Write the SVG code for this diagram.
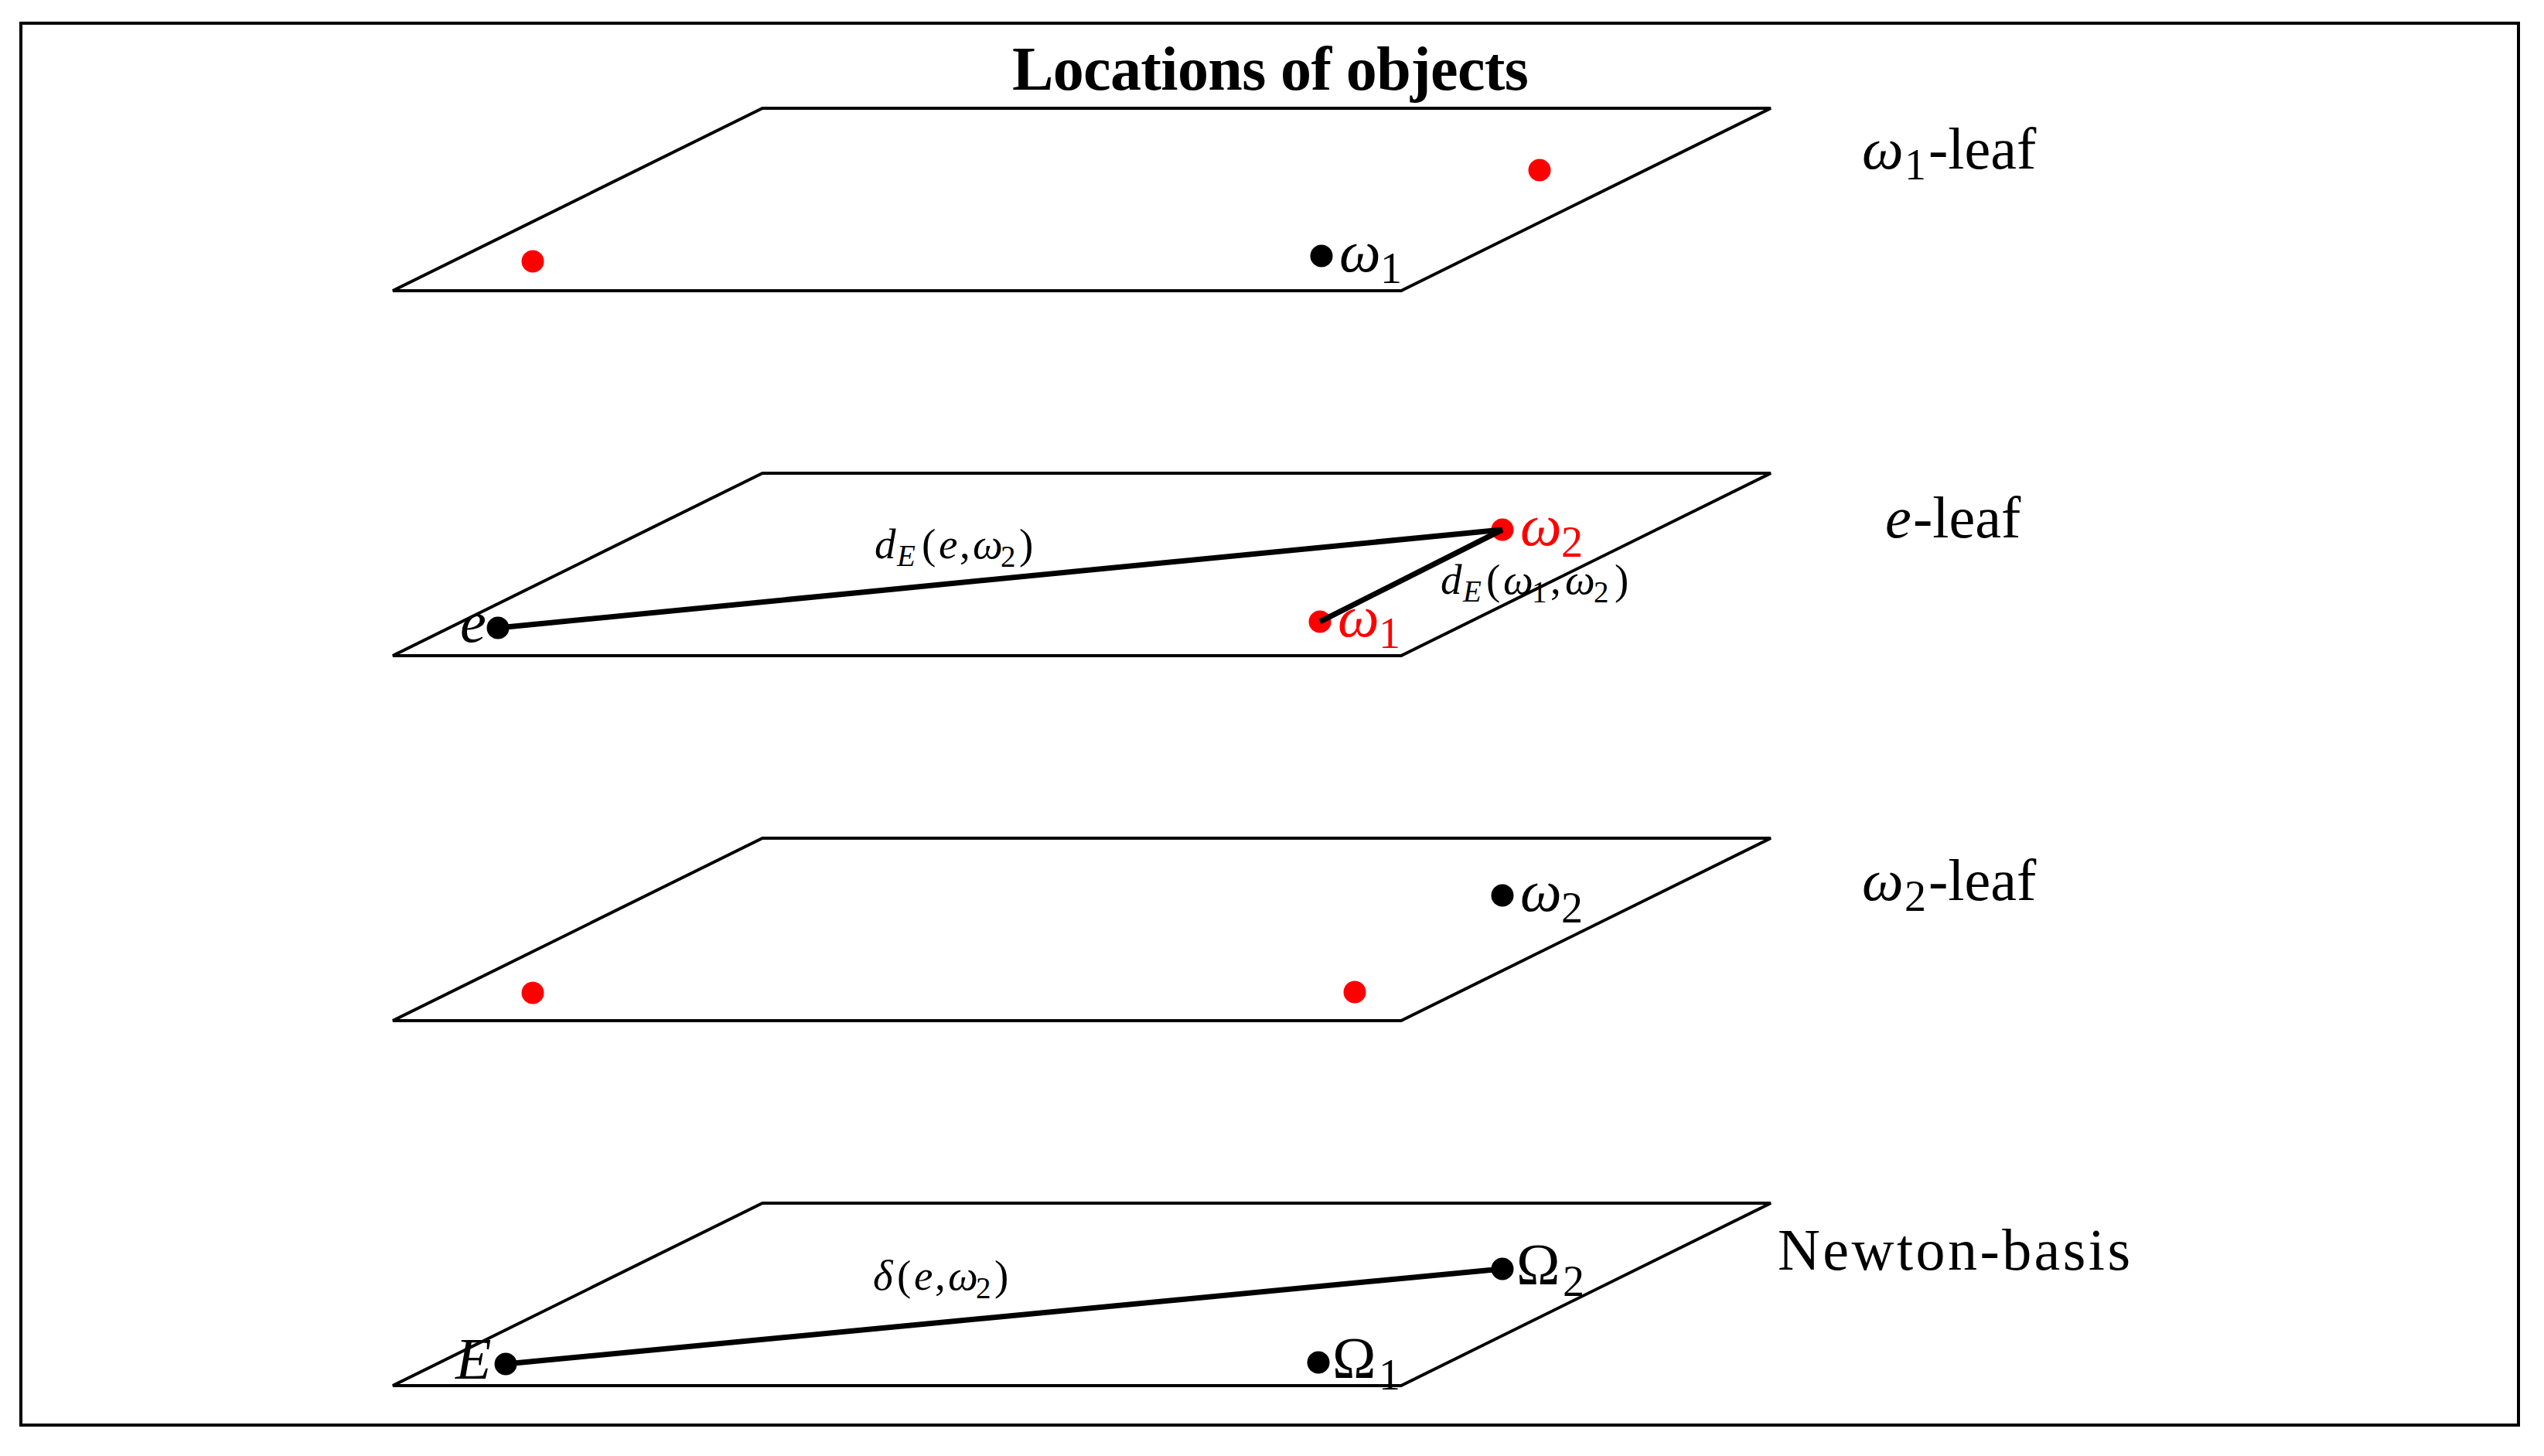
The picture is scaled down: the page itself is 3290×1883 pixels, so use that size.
<svg xmlns="http://www.w3.org/2000/svg" width="3290" height="1883" viewBox="0 0 3290 1883">
<style>
.frame{fill:none;stroke:#000;stroke-width:4}
.plane{fill:none;stroke:#000;stroke-width:4;stroke-linejoin:miter}
.dot{fill:#000}
.red{fill:#ff0000}
.conn{stroke:#000;stroke-width:7;fill:none}
.lbl{font-family:"Liberation Serif","Times New Roman",serif;font-size:76px;fill:#000}
.rl{fill:#ff0000}
.it{font-style:italic}
.sub{font-size:56px}
.sm{font-size:55px}
.smsub{font-size:39px}
.title{font-family:"Liberation Serif","Times New Roman",serif;font-weight:bold;font-size:80px}
</style>
<rect x="0" y="0" width="3290" height="1883" fill="#fff"/>
<rect class="frame" x="27" y="30" width="3230" height="1813"/>
<text class="title" x="1643" y="116" text-anchor="middle" textLength="668">Locations of objects</text>

<g id="plane1">
<polygon class="plane" points="986,140 2290,140 1812,376 508,376"/>
<text class="lbl" y="218"><tspan class="it" x="2408">ω</tspan><tspan class="sub" x="2463" y="232">1</tspan><tspan x="2494" y="218">-leaf</tspan></text>
</g>
<g id="plane2">
<polygon class="plane" points="986,612 2290,612 1812,848 508,848"/>
<text class="lbl" y="695"><tspan class="it" x="2438">e</tspan><tspan x="2474">-leaf</tspan></text>
</g>
<g id="plane3">
<polygon class="plane" points="986,1084 2290,1084 1812,1320 508,1320"/>
<text class="lbl" y="1164"><tspan class="it" x="2408">ω</tspan><tspan class="sub" x="2463" y="1178">2</tspan><tspan x="2494" y="1164">-leaf</tspan></text>
</g>
<g id="plane4">
<polygon class="plane" points="986,1556 2290,1556 1812,1792 508,1792"/>
<text class="lbl" x="2299" y="1642" textLength="456">Newton-basis</text>
</g>

<g id="p1-red-left"><circle class="red" cx="689" cy="338" r="14.5"/></g>
<g id="p1-red-right"><circle class="red" cx="1991" cy="220" r="14.5"/></g>
<g id="p1-omega1"><circle class="dot" cx="1709" cy="331" r="14.5"/>
<text class="lbl" y="351"><tspan class="it" x="1732">ω</tspan><tspan class="sub" x="1785" y="366">1</tspan></text></g>

<g id="p2-e"><circle class="dot" cx="644" cy="812" r="14.5"/>
<text class="lbl it" x="595" y="830">e</text></g>
<g id="p2-omega1"><circle class="red" cx="1707" cy="804" r="14.5"/>
<text class="lbl rl" y="823"><tspan class="it" x="1730">ω</tspan><tspan class="sub" x="1783" y="838">1</tspan></text></g>
<g id="p2-omega2"><circle class="red" cx="1943" cy="685" r="14.5"/>
<text class="lbl rl" y="705"><tspan class="it" x="1966">ω</tspan><tspan class="sub" x="2019" y="720">2</tspan></text></g>

<g id="p3-omega2"><circle class="dot" cx="1943" cy="1158" r="14.5"/>
<text class="lbl" y="1178"><tspan class="it" x="1966">ω</tspan><tspan class="sub" x="2019" y="1193">2</tspan></text></g>
<g id="p3-red-left"><circle class="red" cx="689" cy="1284" r="14.5"/></g>
<g id="p3-red-right"><circle class="red" cx="1752" cy="1283" r="14.5"/></g>

<g id="p4-E"><circle class="dot" cx="654" cy="1764" r="14.5"/>
<text class="lbl it" x="589" y="1783">E</text></g>
<g id="p4-Omega1"><circle class="dot" cx="1705" cy="1762" r="14.5"/>
<text class="lbl" y="1782"><tspan x="1723">Ω</tspan><tspan class="sub" x="1783" y="1797">1</tspan></text></g>
<g id="p4-Omega2"><circle class="dot" cx="1943" cy="1641" r="14.5"/>
<text class="lbl" y="1661"><tspan x="1961">Ω</tspan><tspan class="sub" x="2021" y="1676">2</tspan></text></g>

<g id="connectors">
<line class="conn" x1="644" y1="812" x2="1943" y2="685"/>
<line class="conn" x1="1707" y1="804" x2="1943" y2="685"/>
<line class="conn" x1="654" y1="1764" x2="1943" y2="1641"/>
<text class="lbl sm" y="722"><tspan class="it" x="1131">d</tspan><tspan class="it smsub" x="1160" y="732">E</tspan><tspan x="1192" y="722">(</tspan><tspan class="it" x="1214">e</tspan><tspan x="1241">,</tspan><tspan class="it" x="1258">ω</tspan><tspan class="smsub" x="1294" y="733">2</tspan><tspan x="1318" y="722">)</tspan></text>
<text class="lbl sm" y="768"><tspan class="it" x="1863">d</tspan><tspan class="it smsub" x="1892" y="778">E</tspan><tspan x="1922" y="768">(</tspan><tspan class="it" x="1944">ω</tspan><tspan class="smsub" x="1981" y="779">1</tspan><tspan x="2005" y="768">,</tspan><tspan class="it" x="2024">ω</tspan><tspan class="smsub" x="2061" y="779">2</tspan><tspan x="2088" y="768">)</tspan></text>
<text class="lbl sm" y="1668"><tspan class="it" x="1129">δ</tspan><tspan x="1160">(</tspan><tspan class="it" x="1182">e</tspan><tspan x="1209">,</tspan><tspan class="it" x="1226">ω</tspan><tspan class="smsub" x="1262" y="1679">2</tspan><tspan x="1286" y="1668">)</tspan></text>
</g>
</svg>
